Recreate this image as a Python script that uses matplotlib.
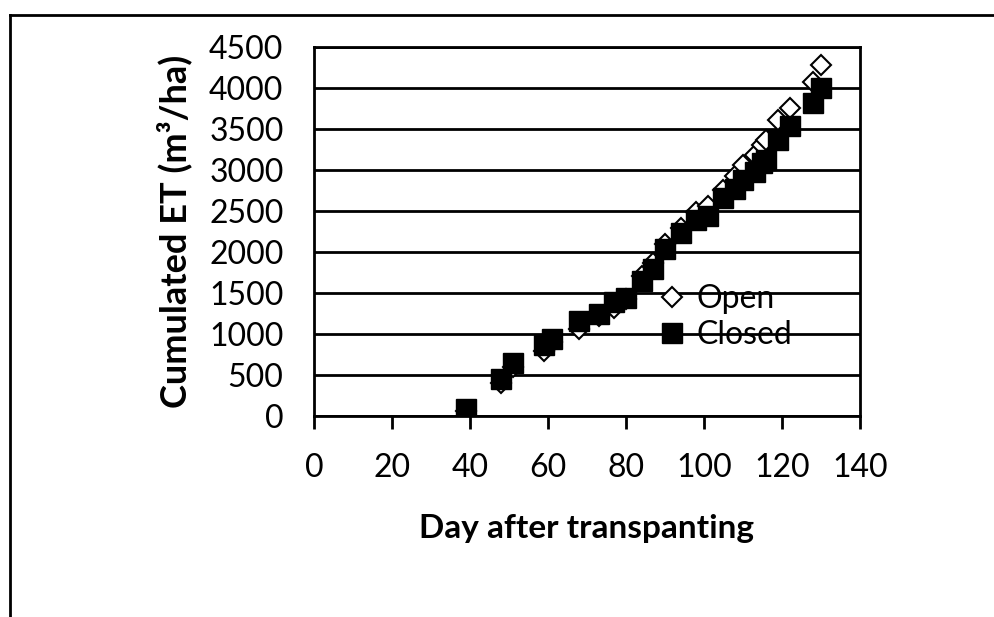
import matplotlib

matplotlib.use("Agg")

import matplotlib.pyplot as plt
from matplotlib.lines import Line2D

# days after transplanting (same sampling days for both treatments)
days = [39, 48, 51, 59, 61, 68, 73, 77, 80, 84, 87, 90, 94, 98, 101,
        105, 108, 110, 113, 115, 116, 119, 122, 128, 130]
et_open = [60, 405, 590, 790, 900, 1060, 1215, 1320, 1420, 1700, 1860, 2100, 2290, 2490, 2555,
           2760, 2920, 3060, 3180, 3300, 3360, 3610, 3750, 4075, 4275]
et_closed = [85, 445, 640, 870, 940, 1160, 1245, 1390, 1440, 1640, 1790, 2030, 2230, 2385, 2435,
             2655, 2770, 2880, 2980, 3080, 3120, 3365, 3530, 3815, 3995]

x_ticks = [0, 20, 40, 60, 80, 100, 120, 140]
y_ticks = [0, 500, 1000, 1500, 2000, 2500, 3000, 3500, 4000, 4500]

plt.rcParams["font.family"] = ["Lato", "DejaVu Sans"]

fig = plt.figure(figsize=(9.94, 6.17), dpi=100)
ax = fig.add_axes([0.316, 0.326, 0.549, 0.598])

ax.plot(days, et_open, linestyle="none", marker="D", markersize=10,
        markerfacecolor="white", markeredgecolor="black", markeredgewidth=1.5,
        label="Open", zorder=3)
ax.plot(days, et_closed, linestyle="none", marker="s", markersize=14,
        color="black", label="Closed", zorder=4)

ax.set_xlim(0, 140)
ax.set_ylim(0, 4500)
ax.set_xticks(x_ticks)
ax.set_yticks(y_ticks)
ax.yaxis.grid(True, color="black", linewidth=2)
ax.set_axisbelow(True)
for side in ax.spines.values():
    side.set_linewidth(2)

ax.tick_params(axis="x", direction="out", length=9, width=2, pad=18, labelsize=23)
ax.tick_params(axis="y", length=0, pad=22, labelsize=23)

ax.set_xlabel("Day after transpanting", fontsize=24, fontweight="bold", labelpad=22)
ax.set_ylabel("Cumulated ET (m³/ha)", fontsize=26, fontweight="bold", labelpad=12)

ax.legend(loc="center left", bbox_to_anchor=(0.627, 0.268), frameon=False,
          fontsize=23, handlelength=1.0, handletextpad=0.25, borderpad=0,
          borderaxespad=0, labelspacing=0.2)

# outer chart frame (only top and left edges visible in the crop)
fig.add_artist(Line2D([0.01, 1.0], [0.976, 0.976], color="black", linewidth=2))
fig.add_artist(Line2D([0.01, 0.01], [0.0, 0.976], color="black", linewidth=2))

fig.savefig("out.png", dpi=100)
plt.close(fig)
